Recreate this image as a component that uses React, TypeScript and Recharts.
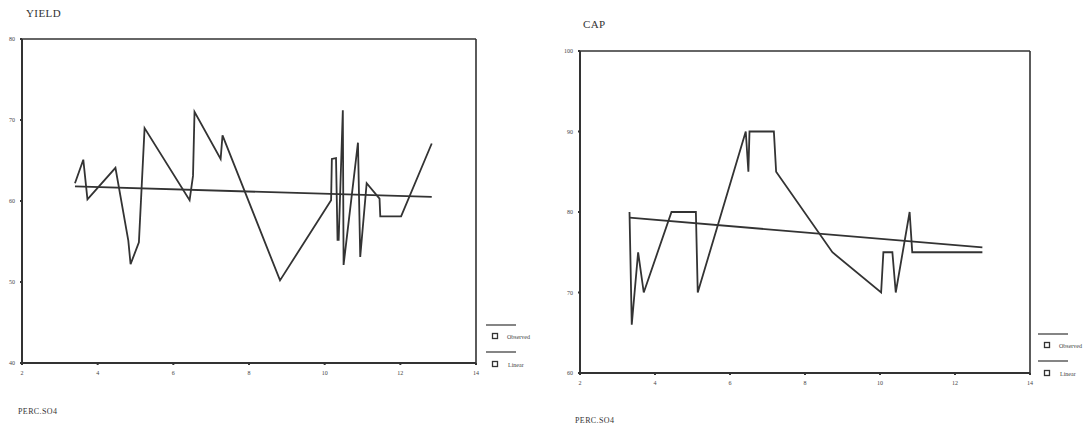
import React from 'react';
import { LineChart, Line, XAxis, YAxis, ReferenceLine } from 'recharts';

// YIELD panel: observed points and the linear fit
const yieldPerc = [3.4, 3.62, 3.73, 4.47, 4.81, 4.87, 5.09, 5.24, 6.43, 6.52, 6.56, 7.25, 7.3, 8.82, 10.17, 10.19, 10.3, 10.34, 10.37, 10.48, 10.5, 10.88, 10.94, 11.11, 11.45, 11.47, 12.02, 12.83];
const yieldObserved = [62.2, 65.1, 60.2, 64.1, 55.1, 52.2, 54.9, 69.0, 60.1, 63.1, 71.0, 65.2, 68.1, 50.2, 60.1, 65.2, 65.3, 55.2, 55.2, 71.2, 52.1, 67.2, 53.1, 62.2, 60.3, 58.1, 58.1, 67.1];
const yieldLinearPerc = [3.4, 12.83];
const yieldLinear = [61.8, 60.5];

// CAP panel
const capPerc = [3.32, 3.38, 3.55, 3.7, 4.44, 5.09, 5.14, 6.42, 6.49, 6.52, 7.17, 7.23, 8.73, 10.03, 10.09, 10.33, 10.42, 10.79, 10.86, 12.73];
const capObserved = [80, 66, 75, 70, 80, 80, 70, 90, 85, 90, 90, 85, 75, 70, 75, 75, 70, 80, 75, 75];
const capLinearPerc = [3.32, 12.73];
const capLinear = [79.3, 75.6];

const xTicks = [2, 4, 6, 8, 10, 12, 14];
const yieldTicks = [40, 50, 60, 70, 80];
const capTicks = [60, 70, 80, 90, 100];

const zip = (xs: number[], ys: number[]) => xs.map((x, i) => ({ x, y: ys[i] }));

const INK = '#333';
const SERIF = '"Liberation Serif", "DejaVu Serif", serif';
const tickStyle = { fill: '#444', fontSize: 6, fontFamily: SERIF };

interface PanelProps {
  width: number;
  top: number;
  axisWidth: number;
  right: number;
  xHeight: number;
  domain: [number, number];
  yTicks: number[];
  observed: { x: number; y: number }[];
  linear: { x: number; y: number }[];
}

const Panel: React.FC<PanelProps> = ({ width, top, axisWidth, right, xHeight, domain, yTicks, observed, linear }) => (
  <LineChart width={width} height={430} margin={{ top, right, left: 0, bottom: 0 }}>
    <XAxis
      type="number"
      dataKey="x"
      domain={[2, 14]}
      ticks={xTicks}
      height={xHeight}
      stroke={INK}
      strokeWidth={2}
      tickSize={2}
      tickMargin={6}
      tick={tickStyle}
      allowDataOverflow
    />
    <YAxis
      type="number"
      domain={domain}
      ticks={yTicks}
      width={axisWidth}
      stroke={INK}
      strokeWidth={2}
      tickSize={2}
      tickMargin={5}
      tick={tickStyle}
      allowDataOverflow
    />
    {/* top and right edges of the frame */}
    <ReferenceLine y={domain[1]} stroke={INK} strokeWidth={1.6} ifOverflow="visible" />
    <ReferenceLine x={14} stroke={INK} strokeWidth={1.6} ifOverflow="visible" />
    <Line data={observed} dataKey="y" type="linear" stroke={INK} strokeWidth={1.8} dot={false} isAnimationActive={false} name="Observed" />
    <Line data={linear} dataKey="y" type="linear" stroke={INK} strokeWidth={1.8} dot={false} isAnimationActive={false} name="Linear" />
  </LineChart>
);

const LegendBox: React.FC<{ left: number; top: number }> = ({ left, top }) => (
  <svg width={56} height={52} style={{ position: 'absolute', left, top }}>
    <line x1={2} y1={5} x2={32} y2={5} stroke={INK} strokeWidth={1.2} />
    <rect x={8.5} y={13.5} width={5} height={5} fill="none" stroke={INK} strokeWidth={1.3} />
    <text x={23} y={19} fontSize={6} fill="#444" fontFamily={SERIF}>Observed</text>
    <line x1={2} y1={32} x2={32} y2={32} stroke={INK} strokeWidth={1.2} />
    <rect x={8.5} y={41.5} width={5} height={5} fill="none" stroke={INK} strokeWidth={1.3} />
    <text x={24} y={47} fontSize={6} fill="#444" fontFamily={SERIF}>Linear</text>
  </svg>
);

const label = (left: number, top: number, size: number): React.CSSProperties => ({
  position: 'absolute',
  left,
  top,
  fontSize: size,
  fontFamily: SERIF,
  color: '#333',
  lineHeight: 1,
  letterSpacing: 0.4,
});

export default function App() {
  return (
    <div style={{ position: 'absolute', left: 0, top: 0, width: 1089, height: 430, background: '#fff', overflow: 'hidden' }}>
      <div style={{ position: 'absolute', left: 0, top: 0 }}>
        <Panel
          width={540}
          top={39}
          axisWidth={22}
          right={64}
          xHeight={67}
          domain={[40, 80]}
          yTicks={yieldTicks}
          observed={zip(yieldPerc, yieldObserved)}
          linear={zip(yieldLinearPerc, yieldLinear)}
        />
      </div>
      <div style={{ position: 'absolute', left: 540, top: 0 }}>
        <Panel
          width={549}
          top={51}
          axisWidth={40}
          right={59}
          xHeight={57}
          domain={[60, 100]}
          yTicks={capTicks}
          observed={zip(capPerc, capObserved)}
          linear={zip(capLinearPerc, capLinear)}
        />
      </div>
      <div style={label(26, 8, 11)}>YIELD</div>
      <div style={label(583, 19, 11)}>CAP</div>
      <div style={label(18, 408, 8)}>PERC.SO4</div>
      <div style={label(575, 417, 8)}>PERC.SO4</div>
      <LegendBox left={484} top={320} />
      <LegendBox left={1036} top={329} />
    </div>
  );
}
